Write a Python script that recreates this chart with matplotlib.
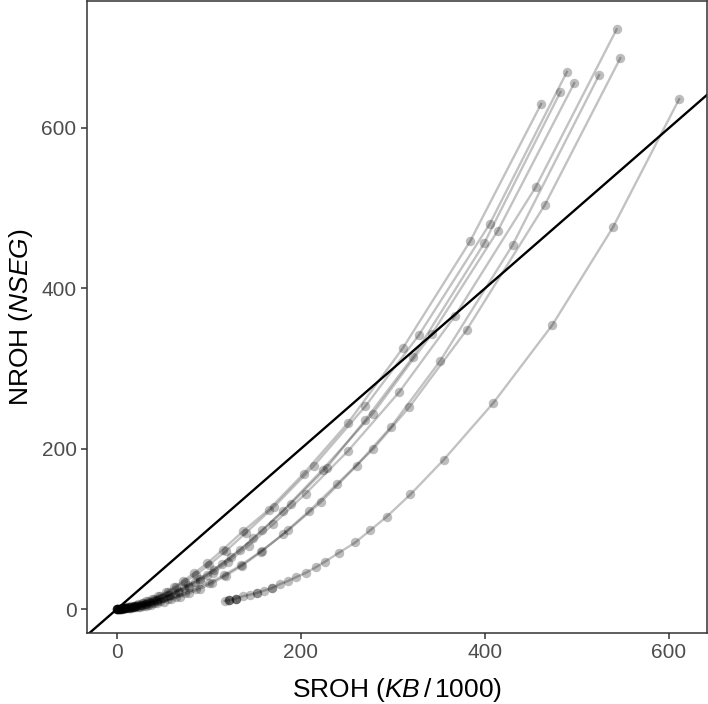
import matplotlib
matplotlib.use('Agg')
import matplotlib.pyplot as plt

plt.rcParams['font.family'] = ['Liberation Sans', 'DejaVu Sans']
plt.rcParams['mathtext.fontset'] = 'custom'
plt.rcParams['mathtext.rm'] = 'Liberation Sans'
plt.rcParams['mathtext.it'] = 'Liberation Sans:italic'

# SROH (x) and NROH (y) for each curve
c1_x = [0, 3, 6, 9, 13, 17, 21, 26, 31, 37, 43, 50, 58, 67, 78, 90, 104, 121, 143, 170, 205, 251, 307, 367, 455, 543]
c1_y = [0, 0.3, 0.7, 1.1, 1.7, 2.5, 3.5, 4.7, 6.2, 8.1, 10.4, 13.3, 17, 21.5, 27.5, 35, 45, 59, 79, 106, 144, 197, 271, 365, 526, 723]

c2_x = [0, 5, 10, 15, 20, 25, 31, 37, 44, 51, 59, 68, 78, 90, 103, 118, 136, 156, 180, 208.7, 239.5, 278, 317.8, 380, 465, 547]
c2_y = [0, 0.4, 0.9, 1.5, 2.2, 3.1, 4.2, 5.5, 7.2, 9.3, 11.9, 15.2, 19.5, 25, 32, 41.5, 54, 71, 93, 122, 156.3, 199, 252, 348, 504, 687]

c3_x = [0, 2, 4, 6, 9, 12, 15, 19, 23, 28, 34, 40, 47, 55, 64, 74, 86, 100, 118, 140, 170.7, 213.8, 270, 328, 405, 489]
c3_y = [0, 0.3, 0.6, 1, 1.6, 2.3, 3.2, 4.3, 5.7, 7.5, 9.8, 12.5, 16, 21, 27, 34, 43, 55, 72, 95, 127.6, 178.4, 253, 341.5, 480, 670]

c4_x = [0, 3, 6, 10, 14, 18, 23, 28, 34, 40, 47, 55, 64, 74, 86, 100, 116, 135, 158, 186, 221.4, 260.5, 298, 351, 430, 524]
c4_y = [0, 0.3, 0.6, 1, 1.5, 2.2, 3.1, 4.2, 5.6, 7.3, 9.4, 12, 15.4, 19.7, 25.3, 32.5, 42, 55, 73, 98, 133, 179, 227.4, 309, 454, 666]

c5_x = [0, 2, 5, 8, 12, 16, 20, 25, 30, 36, 42, 49, 57, 66, 77, 90, 105, 124, 148, 180, 223.4, 278, 342, 414, 497]
c5_y = [0, 0.3, 0.7, 1.2, 1.9, 2.7, 3.7, 5, 6.6, 8.6, 11, 14, 18, 23, 29.5, 38, 49, 65, 88, 122, 173.8, 243.6, 342.7, 472, 656]

c6_x = [0, 1, 3, 6, 9, 13, 17, 22, 27, 33, 39, 46, 54, 63, 73, 85, 98, 114, 134, 158, 188.6, 228, 270, 322, 399, 482]
c6_y = [0, 0.1, 0.4, 0.8, 1.3, 2, 2.9, 4, 5.5, 7.4, 9.6, 12.4, 16, 20.5, 26.5, 34, 43, 56, 74, 98, 131, 176.3, 235.8, 314.8, 456, 645]

c7_x = [0, 1, 2, 4, 6, 8, 11, 14, 18, 22, 27, 32, 38, 45, 53, 62, 72, 84, 98, 115, 137, 165, 203, 251, 311, 384, 461]
c7_y = [0, 0.1, 0.3, 0.6, 1, 1.5, 2.2, 3, 4.2, 5.5, 7.5, 9.5, 12.5, 16, 21, 27, 35, 45, 57, 74, 97, 124, 169, 232, 326, 459, 630]

c8_x = [117, 122, 122, 122, 129, 129, 129, 137, 145, 152, 152, 160, 168, 168, 177, 186, 195, 205, 216, 226, 241, 259, 275, 293, 319, 355, 409, 473, 539, 611]
c8_y = [10, 11, 11, 11, 13, 13, 13, 16, 18, 20, 20, 23, 26, 26, 31, 35, 40, 45, 52, 59, 70, 83, 98, 115, 143, 186, 257, 354, 476, 636]

curves = [(c1_x, c1_y), (c2_x, c2_y), (c3_x, c3_y), (c4_x, c4_y),
          (c5_x, c5_y), (c6_x, c6_y), (c7_x, c7_y), (c8_x, c8_y)]

xticks = [0, 200, 400, 600]
yticks = [0, 200, 400, 600]

fig = plt.figure(figsize=(7.08, 7.04), dpi=100)
ax = fig.add_axes([87/708, 71/704, 620/708, 632/704])

for cx, cy in curves:
    ax.plot(cx, cy, '-', color='black', alpha=0.24, linewidth=1.7)
    ax.plot(cx, cy, 'o', color='black', alpha=0.26, markersize=6.8, markeredgewidth=0)

ax.axline((0, 0), slope=1, color='black', linewidth=1.7)

ax.set_xlim(-32.6, 641.3)
ax.set_ylim(-29.9, 758.4)
ax.set_xticks(xticks)
ax.set_yticks(yticks)

for s in ax.spines.values():
    s.set_color('#333333')
    s.set_linewidth(1.1)
ax.tick_params(direction='out', length=4, width=1.1, color='#333333',
               labelcolor='#4D4D4D', labelsize=15)

ax.set_xlabel(r'SROH ($KB\,/\,$1000)', fontsize=19, labelpad=10)
ax.set_ylabel(r'NROH ($NSEG$)', fontsize=19, labelpad=5)

plt.savefig('out.png', dpi=100)
